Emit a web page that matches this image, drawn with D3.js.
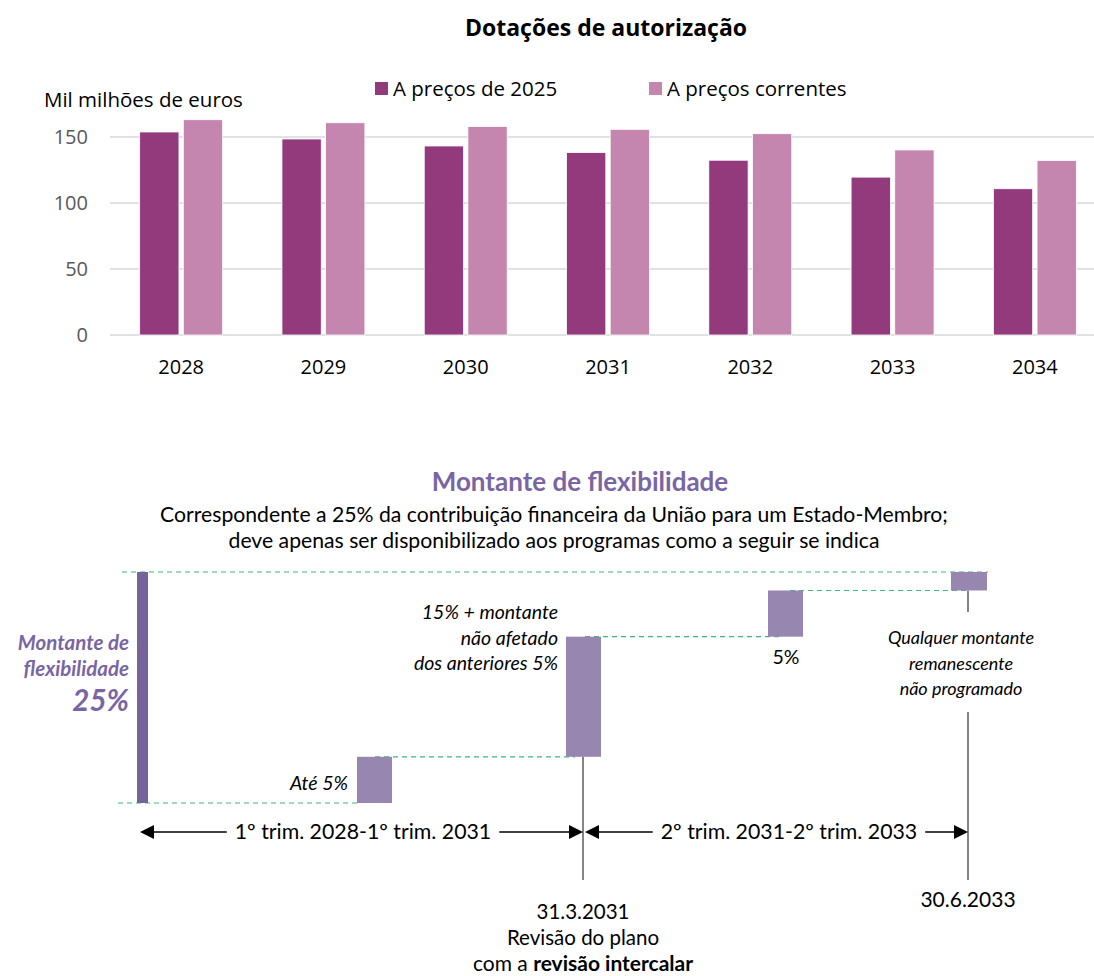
<!DOCTYPE html>
<html>
<head>
<meta charset="utf-8">
<script src="https://cdn.jsdelivr.net/npm/d3@7"></script>
<style>
  body { margin: 0; background: #fff; }
  svg { display: block; }
</style>
</head>
<body>
<div id="chart"></div>
<script>
// ---- data ----
const years = ['2028', '2029', '2030', '2031', '2032', '2033', '2034'];
const series = ['A preços de 2025', 'A preços correntes'];
const constPrices = [153.8, 148.5, 143.2, 138.2, 132.4, 119.6, 110.8];
const currentPrices = [163.1, 160.8, 158.0, 155.8, 152.5, 140.2, 132.2];
const yTicks = [0, 50, 100, 150];

// flexibility diagram (percent of the 25% envelope)
const flexTotal = 25;
const flexSteps = [5, 13, 5, 2];
const milestones = ['1.1.2028', '31.3.2031', '30.6.2033'];
const periods = ['1º trim. 2028-1º trim. 2031', '2º trim. 2031-2º trim. 2033'];

(function(){
  const W = 1094, H = 976,
        darkColor  = '#933a7d',
        lightColor = '#c485ae',
        flexColor  = '#9787b0',
        flexDark   = '#756399',
        purpleText = '#7a65a4',
        dashColor  = '#3cb878';
  const font = "'Open Sans', sans-serif",
        cond = "Lato, sans-serif";

  const svg = d3.select('#chart').append('svg')
    .attr('width', W).attr('height', H);

  // ================= bar chart =================
  svg.append('text')
    .attr('x', 606).attr('y', 36)
    .attr('text-anchor', 'middle')
    .attr('font-family', font).attr('font-weight', 'bold')
    .attr('font-size', 23)
    .text('Dotações de autorização');

  const x0 = d3.scaleBand().domain(years).range([110, 1106]).paddingInner(0.417).paddingOuter(0.2085);
  const x1 = d3.scaleBand().domain(series).range([0, x0.bandwidth()]).paddingInner(0.1);
  const y = d3.scaleLinear().domain([0, 150]).range([335, 137]);

  // gridlines
  svg.append('g').selectAll('line')
    .data(yTicks)
    .enter().append('line')
      .attr('x1', 110).attr('x2', W)
      .attr('y1', d => y(d)).attr('y2', d => y(d))
      .attr('stroke', '#d9d9d9').attr('stroke-width', 1.5);

  // y ticks
  svg.append('g').selectAll('text')
    .data(yTicks)
    .enter().append('text')
      .attr('x', 88).attr('y', d => y(d))
      .attr('dy', '0.35em')
      .attr('text-anchor', 'end')
      .attr('font-family', font).attr('font-size', 20)
      .attr('fill', '#595959')
      .text(d => d);

  svg.append('text')
    .attr('x', 44).attr('y', 107)
    .attr('font-family', font).attr('font-size', 20.5)
    .text('Mil milhões de euros');

  // bars
  const rows = years.map((yr, i) => ({ year: yr, values: [constPrices[i], currentPrices[i]] }));
  const grp = svg.append('g').selectAll('g')
    .data(rows)
    .enter().append('g')
      .attr('transform', d => `translate(${x0(d.year)},0)`);
  grp.selectAll('rect')
    .data(d => d.values.map((v, k) => ({ s: series[k], v })))
    .enter().append('rect')
      .attr('x', d => x1(d.s))
      .attr('width', x1.bandwidth())
      .attr('y', d => y(d.v))
      .attr('height', d => y(0) - y(d.v))
      .attr('fill', d => d.s === series[0] ? darkColor : lightColor)
      .attr('stroke', '#fff').attr('stroke-width', 0.8);

  // x axis labels
  svg.append('g').selectAll('text')
    .data(years)
    .enter().append('text')
      .attr('x', d => x0(d) + x0.bandwidth() / 2)
      .attr('y', 374)
      .attr('text-anchor', 'middle')
      .attr('font-family', font).attr('font-size', 20)
      .text(d => d);

  // legend
  const lg = svg.append('g').selectAll('g')
    .data(series)
    .enter().append('g')
      .attr('transform', (d, i) => `translate(${i ? 649 : 375},82)`);
  lg.append('rect')
    .attr('width', 13).attr('height', 13)
    .attr('fill', (d, i) => i ? lightColor : darkColor);
  lg.append('text')
    .attr('x', 18).attr('y', 14)
    .attr('font-family', font).attr('font-size', 20.5)
    .text(d => d);

  // ================= flexibility diagram =================
  svg.append('text')
    .attr('x', 580).attr('y', 491)
    .attr('text-anchor', 'middle')
    .attr('font-family', cond).attr('font-weight', 'bold')
    .attr('font-size', 26).attr('fill', purpleText)
    .text('Montante de flexibilidade');
  const sub = ['Correspondente a 25% da contribuição financeira da União para um Estado-Membro;',
               'deve apenas ser disponibilizado aos programas como a seguir se indica'];
  svg.append('g').selectAll('text')
    .data(sub)
    .enter().append('text')
      .attr('x', 554).attr('y', (d, i) => 522 + i * 26)
      .attr('text-anchor', 'middle')
      .attr('font-family', cond).attr('font-size', 21.2)
      .text(d => d);

  const fy = d3.scaleLinear().domain([0, flexTotal]).range([803, 572]);
  const tx = d3.scaleOrdinal().domain(milestones).range([140, 583, 968]);
  const stepX = [357, 566, 768, 951];
  const stepW = 35;

  // cumulative steps
  let acc = 0;
  const steps = flexSteps.map((v, i) => {
    const s = { i, lo: acc, hi: acc + v };
    acc += v;
    return s;
  });

  // dashed connectors
  const dashes = [
    { lvl: 0, xa: 118, xb: 360 },
    { lvl: steps[0].hi, xa: 375, xb: 575 },
    { lvl: steps[1].hi, xa: 585, xb: 780 },
    { lvl: steps[2].hi, xa: 790, xb: 968 },
    { lvl: flexTotal, xa: 122, xb: 988 }
  ];
  svg.append('g').selectAll('line')
    .data(dashes)
    .enter().append('line')
      .attr('x1', d => d.xa).attr('x2', d => d.xb)
      .attr('y1', d => fy(d.lvl)).attr('y2', d => fy(d.lvl))
      .attr('stroke', dashColor).attr('stroke-width', 1.2)
      .attr('stroke-dasharray', '5,4');

  // total bar
  svg.append('rect')
    .attr('x', 137).attr('width', 11)
    .attr('y', fy(flexTotal)).attr('height', fy(0) - fy(flexTotal))
    .attr('fill', flexDark);

  // vertical milestone lines
  svg.append('line')
    .attr('x1', tx(milestones[1])).attr('x2', tx(milestones[1]))
    .attr('y1', fy(steps[0].hi)).attr('y2', 880)
    .attr('stroke', '#333').attr('stroke-width', 1.2);
  svg.append('line')
    .attr('x1', tx(milestones[2])).attr('x2', tx(milestones[2]))
    .attr('y1', fy(steps[2].hi)).attr('y2', 612)
    .attr('stroke', '#333').attr('stroke-width', 1.2);
  svg.append('line')
    .attr('x1', tx(milestones[2])).attr('x2', tx(milestones[2]))
    .attr('y1', 712).attr('y2', 880)
    .attr('stroke', '#333').attr('stroke-width', 1.2);

  // step bars
  svg.append('g').selectAll('rect')
    .data(steps)
    .enter().append('rect')
      .attr('x', d => stepX[d.i]).attr('width', d => d.i === 3 ? 36 : stepW)
      .attr('y', d => fy(d.hi)).attr('height', d => fy(d.lo) - fy(d.hi))
      .attr('fill', flexColor);

  // left label
  const leftLbl = [
    { t: 'Montante de', y: 650, s: 20.5 },
    { t: 'flexibilidade', y: 676, s: 20.5 },
    { t: '25%', y: 711, s: 29.5 }
  ];
  svg.append('g').selectAll('text')
    .data(leftLbl)
    .enter().append('text')
      .attr('x', 129).attr('y', d => d.y)
      .attr('text-anchor', 'end')
      .attr('font-family', cond).attr('font-weight', 'bold').attr('font-style', 'italic')
      .attr('font-size', d => d.s).attr('fill', purpleText)
      .text(d => d.t);

  function lines(arr, xPos, y0, anchor, italic, size) {
    svg.append('g').selectAll('text')
      .data(arr)
      .enter().append('text')
        .attr('x', xPos).attr('y', (d, i) => y0 + i * 25.5)
        .attr('text-anchor', anchor)
        .attr('font-family', cond).attr('font-size', size || 19)
        .attr('font-style', italic ? 'italic' : 'normal')
        .text(d => d);
  }
  lines(['Até 5%'], 348, 790, 'end', true, 19.5);
  lines(['15% + montante', 'não afetado', 'dos anteriores 5%'], 558, 619, 'end', true, 19.5);
  lines(['5%'], 786, 664, 'middle', false, 19.5);
  lines(['Qualquer montante', 'remanescente', 'não programado'], 961, 644, 'middle', true, 18);

  // period arrows
  const arrowY = 832;
  const spans = [
    { a: tx(milestones[0]), b: tx(milestones[1]), c: 363, t: periods[0] },
    { a: tx(milestones[1]) + 2, b: tx(milestones[2]), c: 789, t: periods[1] }
  ];
  const ar = svg.append('g').selectAll('g')
    .data(spans)
    .enter().append('g');
  ar.append('line')
    .attr('x1', d => d.a + 8).attr('x2', d => d.b - 8)
    .attr('y1', arrowY).attr('y2', arrowY)
    .attr('stroke', '#000').attr('stroke-width', 1.3);
  ar.append('path')
    .attr('d', d => `M${d.a},${arrowY}l14,-7v14z M${d.b},${arrowY}l-14,-7v14z`)
    .attr('fill', '#000');
  ar.append('text')
    .attr('x', d => d.c).attr('y', arrowY)
    .attr('dy', '0.35em')
    .attr('text-anchor', 'middle')
    .attr('font-family', cond).attr('font-size', 21.3)
    .text(d => d.t)
    .each(function() {
      const bb = this.getBBox();
      d3.select(this.parentNode).insert('rect', 'text')
        .attr('x', bb.x - 8).attr('y', bb.y)
        .attr('width', bb.width + 16).attr('height', bb.height)
        .attr('fill', '#fff');
    });

  // milestone labels
  lines(['30.6.2033'], tx(milestones[2]), 907, 'middle', false, 21);
  lines(['31.3.2031', 'Revisão do plano'], tx(milestones[1]), 919, 'middle', false, 20.5);
  const last = svg.append('text')
    .attr('x', tx(milestones[1])).attr('y', 971)
    .attr('text-anchor', 'middle')
    .attr('font-family', cond).attr('font-size', 21);
  last.append('tspan').text('com a ');
  last.append('tspan').attr('font-weight', 'bold').text('revisão intercalar');
})();
</script>
</body>
</html>
